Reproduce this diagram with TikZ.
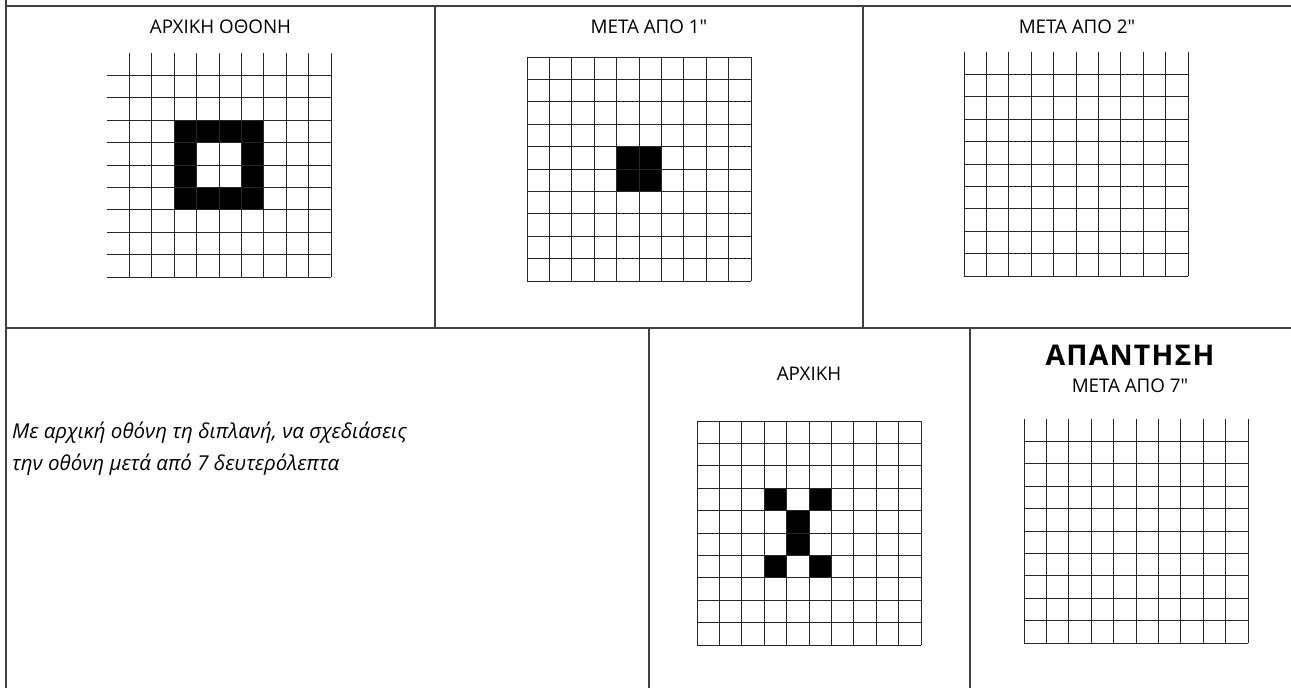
\documentclass[tikz,border=0pt]{standalone}
\usepackage{fontspec}
\newfontfamily\labfont{Open Sans}
\newfontfamily\labbold{Open Sans Bold}[LetterSpace=4]
\newfontfamily\itxfont{Open Sans}
\tikzset{
  frame/.style={line width=1.2pt, draw=black!75},
  gridline/.style={line width=1pt, draw=black!85},
  cell/.style={fill=black},
  lab/.style={inner sep=0pt, anchor=base, font=\labfont\fontsize{18.8}{20}\selectfont},
}
% grid: #1 x0, #2 y0, #3 draw left border, #4 draw top border
\newcommand\mygrid[4]{%
  \foreach \k in {1,...,10} {
    \draw[gridline] ({#1},{#2+22.4*\k}) -- ({#1+224},{#2+22.4*\k});
    \draw[gridline] ({#1+22.4*\k},{#2}) -- ({#1+22.4*\k},{#2+224});
  }
  \ifnum#3=1 \draw[gridline] ({#1},{#2}) -- ({#1},{#2+224}); \fi
  \ifnum#4=1 \draw[gridline] ({#1},{#2}) -- ({#1+224},{#2}); \fi
}
\newcommand\mycell[4]{\fill[cell] ({#1+22.4*#3},{#2+22.4*#4}) rectangle ({#1+22.4*#3+22.4},{#2+22.4*#4+22.4});}
\begin{document}
\begin{tikzpicture}[x=1pt,y=-1pt]
\useasboundingbox (0,0) rectangle (1291,688);
\fill[white] (0,0) rectangle (1291,688);
% table frame
\coordinate (tl) at (6,0);
\coordinate (bl) at (6,688);
\coordinate (t1) at (6,6);
\coordinate (t2) at (1291,6);
\coordinate (m1) at (6,328);
\coordinate (m2) at (1291,328);
\coordinate (va1) at (435,6);
\coordinate (va2) at (435,328);
\coordinate (vb1) at (863,6);
\coordinate (vb2) at (863,328);
\coordinate (vc1) at (649,328);
\coordinate (vc2) at (649,688);
\coordinate (vd1) at (970,328);
\coordinate (vd2) at (970,688);
\draw[frame] (tl) -- (bl);
\draw[frame] (t1) -- (t2);
\draw[frame] (m1) -- (m2);
\draw[frame] (va1) -- (va2);
\draw[frame] (vb1) -- (vb2);
\draw[frame] (vc1) -- (vc2);
\draw[frame] (vd1) -- (vd2);
% labels
\node[lab] (l1) at (220.5,33) {ΑΡΧΙΚΗ ΟΘΟΝΗ};
\node[lab] (l2) at (649,33) {ΜΕΤΑ ΑΠΟ 1"};
\node[lab] (l3) at (1077,33) {ΜΕΤΑ ΑΠΟ 2"};
\node[lab] (l4) at (809,380) {ΑΡΧΙΚΗ};
\node[inner sep=0pt, anchor=base, font=\labbold\fontsize{28.5}{30}\selectfont] (l5) at (1130,365) {ΑΠΑΝΤΗΣΗ};
\node[lab] (l6) at (1130,392) {ΜΕΤΑ ΑΠΟ 7"};
\node[inner sep=0pt, anchor=base west, align=left, font=\itxfont\itshape\fontsize{20.5}{31.5}\selectfont] (txt) at (12,470)
  {Με αρχική οθόνη τη διπλανή, να σχεδιάσεις\\την οθόνη μετά από 7 δευτερόλεπτα};
% grid 1
\foreach \c/\r in {3/3,4/3,5/3,6/3,3/4,6/4,3/5,6/5,3/6,4/6,5/6,6/6} {\mycell{107}{53}{\c}{\r}}
\mygrid{107}{53}{0}{0}
% grid 2
\foreach \c/\r in {4/4,5/4,4/5,5/5} {\mycell{527}{57}{\c}{\r}}
\mygrid{527}{57}{1}{1}
% grid 3
\mygrid{964}{52}{1}{0}
% grid 4
\foreach \c/\r in {3/3,5/3,4/4,4/5,3/6,5/6} {\mycell{697}{421}{\c}{\r}}
\mygrid{697}{421}{1}{1}
% grid 5
\mygrid{1024}{419}{1}{0}
\end{tikzpicture}
\end{document}
